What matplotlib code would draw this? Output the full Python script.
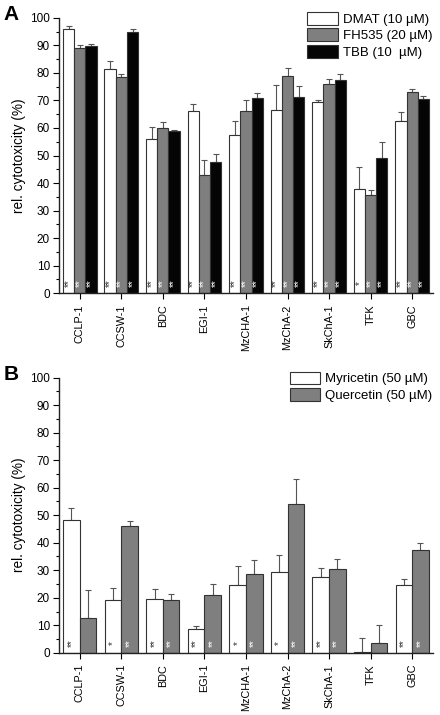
import numpy as np
import matplotlib
matplotlib.use('Agg')
import matplotlib.pyplot as plt
from matplotlib.ticker import MultipleLocator

plt.rcParams['font.family'] = ['Liberation Sans', 'DejaVu Sans']

cells = ['CCLP-1', 'CCSW-1', 'BDC', 'EGI-1', 'MzCHA-1', 'MzChA-2', 'SkChA-1', 'TFK', 'GBC']

# panel A
dmat = [96, 81.5, 56, 66, 57.5, 66.5, 69.5, 38, 62.5]
dmat_err = [1, 2.8, 4.5, 2.7, 5.2, 9, 0.5, 8, 3.2]
fh535 = [89, 78.5, 60, 43, 66, 79, 76, 35.5, 73]
fh535_err = [1, 1, 2.3, 5.5, 4.2, 2.7, 1.7, 2, 1.3]
tbb = [89.7, 95, 59, 47.5, 71, 71.2, 77.5, 49, 70.5]
tbb_err = [0.8, 1, 0.3, 3.2, 1.7, 4, 2, 5.8, 1]
dmat_sig = ['**', '**', '**', '**', '**', '**', '**', '*', '**']
fh535_sig = ['**'] * 9
tbb_sig = ['**'] * 9

# panel B
myr = [48.3, 19, 19.7, 8.5, 24.7, 29.3, 27.5, 0.3, 24.7]
myr_err = [4.4, 4.7, 3.6, 1.2, 7, 6.4, 3.4, 5, 2.2]
que = [12.7, 46, 19.3, 21.1, 28.8, 54.2, 30.5, 3.6, 37.5]
que_err = [10, 2, 2.2, 4, 4.8, 9, 3.7, 6.6, 2.5]
myr_sig = ['**', '*', '**', '**', '*', '*', '**', '', '**']
que_sig = ['', '**', '**', '**', '**', '**', '**', '', '**']

fig = plt.figure(figsize=(4.4, 7.15), dpi=100)
axA = fig.add_axes([0.134, 0.590, 0.850, 0.385])
axB = fig.add_axes([0.134, 0.087, 0.850, 0.385])

x = np.arange(1, len(cells) + 1)


def style(ax, letter):
    ax.set_xlim(0.5, 9.5)
    ax.set_ylim(0, 100)
    ax.yaxis.set_major_locator(MultipleLocator(10))
    ax.yaxis.set_minor_locator(MultipleLocator(5))
    ax.set_xticks(x)
    ax.set_xticklabels(cells, rotation=90, fontsize=7.8)
    ax.tick_params(axis='y', labelsize=8.5, length=4.5, width=0.8, pad=2)
    ax.tick_params(axis='y', which='minor', length=2.5, width=0.8)
    ax.tick_params(axis='x', length=4.5, width=0.8)
    for s in ['top', 'right']:
        ax.spines[s].set_visible(False)
    for s in ['left', 'bottom']:
        ax.spines[s].set_linewidth(1.0)
        ax.spines[s].set_color('#222222')
    ax.set_ylabel('rel. cytotoxicity (%)', fontsize=9.8, labelpad=3)
    ax.text(-0.148, 1.045, letter, transform=ax.transAxes, fontsize=15,
            fontweight='bold', va='top', ha='left')


def bars(ax, pos, vals, errs, color, w, label, sig, sigcol):
    ax.bar(pos, vals, w, color=color, edgecolor='#333333', linewidth=0.8,
           label=label, zorder=2)
    ax.errorbar(pos, vals, yerr=[np.zeros(len(errs)), errs], fmt='none',
                ecolor='#555555', elinewidth=0.8, capsize=2.5, capthick=0.8,
                zorder=1)
    for p, s in zip(pos, sig):
        if s:
            ax.text(p, 3.5, s, ha='center', va='center', fontsize=7,
                    rotation=90, color=sigcol, zorder=3)


wA = 0.27
bars(axA, x - wA, dmat, dmat_err, 'white', wA, 'DMAT (10 µM)', dmat_sig, '#333333')
bars(axA, x, fh535, fh535_err, '#7f7f7f', wA, 'FH535 (20 µM)', fh535_sig, 'white')
bars(axA, x + wA, tbb, tbb_err, '#050505', wA, 'TBB (10  µM)', tbb_sig, 'white')
style(axA, 'A')
axA.legend(loc='upper right', bbox_to_anchor=(1.02, 1.05), fontsize=9.5,
           frameon=False, handlelength=2.3, handleheight=1.1,
           handletextpad=0.4, labelspacing=0.2, borderaxespad=0.2)

wB = 0.4
bars(axB, x - wB / 2, myr, myr_err, 'white', wB, 'Myricetin (50 µM)', myr_sig, '#333333')
bars(axB, x + wB / 2, que, que_err, '#7f7f7f', wB, 'Quercetin (50 µM)', que_sig, 'white')
style(axB, 'B')
axB.legend(loc='upper right', bbox_to_anchor=(1.02, 1.05), fontsize=9.5,
           frameon=False, handlelength=2.3, handleheight=1.1,
           handletextpad=0.4, labelspacing=0.2, borderaxespad=0.2)

fig.savefig('out.png', dpi=100)
